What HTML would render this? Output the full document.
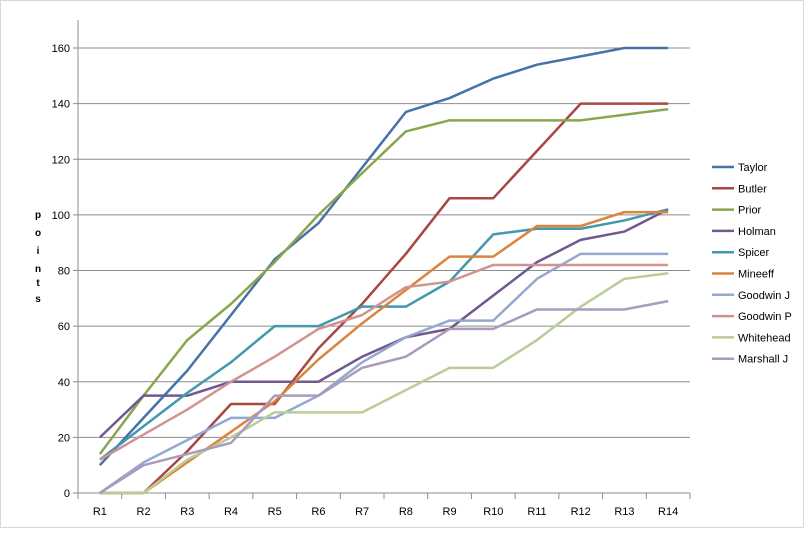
<!DOCTYPE html>
<html><head><meta charset="utf-8"><style>
body{margin:0;background:#fff;font-family:"Liberation Sans",sans-serif}
svg text{font-family:"Liberation Sans",sans-serif;font-size:11px;fill:#000}
</style></head><body>
<svg id="chart" width="804" height="528" xmlns="http://www.w3.org/2000/svg">
<rect x="0.5" y="0.5" width="803" height="527" fill="#fff" stroke="#d8d8d8"/>
<g id="grid"></g><g id="axes"></g><g id="series"></g><g id="legend"></g>
<g>
<text x="38" y="218" text-anchor="middle" font-weight="bold" style="font-size:10px">p</text>
<text x="38" y="236" text-anchor="middle" font-weight="bold" style="font-size:10px">o</text>
<text x="38" y="254" text-anchor="middle" font-weight="bold" style="font-size:10px">i</text>
<text x="38" y="272" text-anchor="middle" font-weight="bold" style="font-size:10px">n</text>
<text x="38" y="286" text-anchor="middle" font-weight="bold" style="font-size:10px">t</text>
<text x="38" y="302" text-anchor="middle" font-weight="bold" style="font-size:10px">s</text>
</g>
</svg>
<script>
const categories=["R1","R2","R3","R4","R5","R6","R7","R8","R9","R10","R11","R12","R13","R14"];
const yTicks=[0,20,40,60,80,100,120,140,160];
const names=["Taylor","Butler","Prior","Holman","Spicer","Mineeff","Goodwin J","Goodwin P","Whitehead","Marshall J"];
const colors=["#4572A7","#AA4643","#89A54E","#71588F","#4198AF","#DB843D","#93A9CF","#D19392","#B9CD96","#A99BBD"];
const taylor=[10,27,44,64,84,97,117,137,142,149,154,157,160,160];
const butler=[0,0,15,32,32,52,68,86,106,106,123,140,140,140];
const prior=[14,35,55,68,83,100,115,130,134,134,134,134,136,138];
const holman=[20,35,35,40,40,40,49,56,59,71,83,91,94,102];
const spicer=[12,24,36,47,60,60,67,67,76,93,95,95,98,102];
const mineeff=[0,0,11,22,33,48,61,73,85,85,96,96,101,101];
const goodwinJ=[0,11,19,27,27,35,47,56,62,62,77,86,86,86];
const goodwinP=[12,21,30,40,49,59,64,74,76,82,82,82,82,82];
const whitehead=[0,0,12,20,29,29,29,37,45,45,55,67,77,79];
const marshallJ=[0,10,14,18,35,35,45,49,59,59,66,66,66,69];
const seriesData=[taylor,butler,prior,holman,spicer,mineeff,goodwinJ,goodwinP,whitehead,marshallJ];

const NS="http://www.w3.org/2000/svg";
const L=78,R=690,T=20,B=493,ymax=160,y160=48;
const step=(R-L)/categories.length;
const xS=i=>L+step*(i+0.5);
const yS=v=>B-(B-y160)*v/ymax;
function mk(tag,attrs,parent){const e=document.createElementNS(NS,tag);for(const k in attrs)e.setAttribute(k,attrs[k]);parent.appendChild(e);return e;}
const grid=document.getElementById('grid'),axes=document.getElementById('axes'),ser=document.getElementById('series'),leg=document.getElementById('legend');
yTicks.forEach(v=>{
 if(v>0){const g=mk('line',{x1:L,x2:R,y1:yS(v),y2:yS(v),stroke:'#8c8c8c','stroke-width':1},grid);
 
 }
 mk('line',{x1:L-5,x2:L,y1:yS(v),y2:yS(v),stroke:'#8c8c8c'},axes);
 const t=mk('text',{x:L-8,y:yS(v)+4,'text-anchor':'end'},axes);t.textContent=v;
 
 
});
const ya=mk('line',{x1:L,x2:L,y1:T,y2:B,stroke:'#8c8c8c'},axes);


const xa=mk('line',{x1:L,x2:R,y1:B,y2:B,stroke:'#8c8c8c'},axes);


for(let i=0;i<=categories.length;i++)mk('line',{x1:L+step*i,x2:L+step*i,y1:B,y2:B+6,stroke:'#8c8c8c'},axes);
categories.forEach((c,i)=>{const t=mk('text',{x:xS(i),y:B+22,'text-anchor':'middle'},axes);t.textContent=c;
 
 });
seriesData.forEach((d,s)=>{
 const p=mk('polyline',{points:d.map((v,i)=>xS(i)+','+yS(v)).join(' '),fill:'none',stroke:colors[s],'stroke-width':2.5,'stroke-linejoin':'round'},ser);
 
 
 const y=167+21.3*s;
 const g=mk('g',{},leg);
 
 
 mk('line',{x1:712,x2:734,y1:y,y2:y,stroke:colors[s],'stroke-width':2.5},g);
 const t=mk('text',{x:738,y:y+4},g);t.textContent=names[s];
});
</script>
</body></html>
